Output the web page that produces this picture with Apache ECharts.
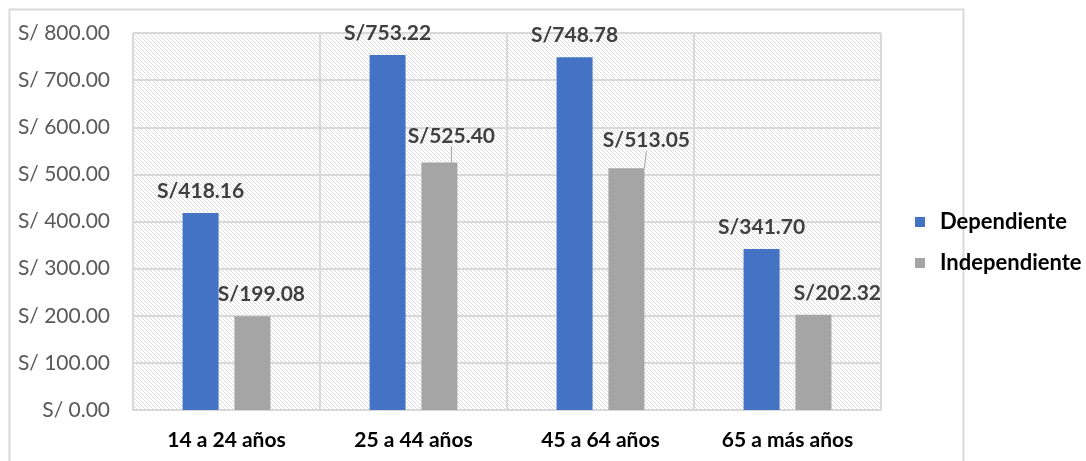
<!DOCTYPE html>
<html>
<head>
<meta charset="utf-8">
<script src="https://cdn.jsdelivr.net/npm/echarts@6/dist/echarts.min.js"></script>
<style>
  html, body { margin: 0; padding: 0; background: #ffffff; }
  #chart { width: 1086px; height: 461px; }
</style>
</head>
<body>
<div id="chart"></div>
<script>
// Ingreso promedio por grupo de edad y tipo de trabajador
const categories = ['14 a 24 años', '25 a 44 años', '45 a 64 años', '65 a más años'];
const dependiente = [418.16, 753.22, 748.78, 341.70];
const independiente = [199.08, 525.40, 513.05, 202.32];
const seriesNames = ['Dependiente', 'Independiente'];
const yTicks = [0, 100, 200, 300, 400, 500, 600, 700, 800];

const FONT = 'Lato, "Open Sans", sans-serif';

// Diagonal hatch tile for the plot background
function hatchTile() {
  const c = document.createElement('canvas');
  c.width = 4; c.height = 4;
  const g = c.getContext('2d');
  g.fillStyle = '#ffffff';
  g.fillRect(0, 0, 4, 4);
  g.strokeStyle = '#dcdcdc';
  g.lineWidth = 1;
  g.beginPath();
  g.moveTo(-1, -1); g.lineTo(5, 5);
  g.moveTo(-1, 3); g.lineTo(1, 5);
  g.moveTo(3, -1); g.lineTo(5, 1);
  g.stroke();
  return c;
}

// Label nudges (dx, dy) for labels that sit beside their bars
const labelShift = {
  '1-0': [9, 0],
  '1-1': [12, -5],
  '1-2': [20, -6],
  '1-3': [24, 0]
};
const leaderItems = ['1-1', '1-2'];

function toItems(values, sIdx) {
  return values.map((v, i) => {
    const key = sIdx + '-' + i;
    const item = { value: v };
    if (leaderItems.indexOf(key) >= 0) {
      item.labelLine = { show: true, lineStyle: { color: '#a6a6a6', width: 1 } };
    }
    return item;
  });
}

const labelStyle = {
  show: true,
  position: 'top',
  distance: 11,
  fontFamily: FONT,
  fontWeight: 'bold',
  fontSize: 21,
  color: '#404040',
  formatter: p => 'S/' + p.value.toFixed(2)
};

const chart = echarts.init(document.getElementById('chart'), null, { renderer: 'canvas' });

chart.setOption({
  backgroundColor: '#ffffff',
  animation: false,
  graphic: [{
    type: 'rect',
    shape: { x: 9.5, y: 9.5, width: 954, height: 470 },
    style: { fill: 'none', stroke: '#d9d9d9', lineWidth: 2 },
    silent: true,
    z: -10
  }],
  grid: {
    left: 133, top: 33, width: 748, height: 377,
    show: true,
    borderWidth: 0,
    backgroundColor: { image: hatchTile(), repeat: 'repeat' }
  },
  legend: {
    orient: 'vertical',
    left: 910,
    top: 206,
    icon: 'rect',
    itemWidth: 10,
    itemHeight: 10,
    itemGap: 19,
    data: seriesNames,
    textStyle: { fontFamily: FONT, fontWeight: 'bold', fontSize: 22, color: '#000000', padding: [0, 0, 0, 10] }
  },
  xAxis: {
    type: 'category',
    data: categories,
    axisLine: { show: true, lineStyle: { color: '#d9d9d9', width: 2 } },
    axisTick: { show: false },
    splitLine: { show: true, lineStyle: { color: '#d9d9d9', width: 2 } },
    axisLabel: { margin: 20, fontFamily: FONT, fontWeight: 'bold', fontSize: 21, color: '#000000' }
  },
  yAxis: {
    type: 'value',
    min: yTicks[0],
    max: yTicks[yTicks.length - 1],
    interval: 100,
    axisLine: { show: false },
    axisTick: { show: false },
    splitLine: { show: true, lineStyle: { color: '#d9d9d9', width: 2 } },
    axisLabel: {
      margin: 23,
      fontFamily: FONT,
      fontSize: 21,
      color: '#595959',
      formatter: v => 'S/ ' + v.toFixed(2)
    }
  },
  series: [
    {
      name: seriesNames[0],
      type: 'bar',
      data: toItems(dependiente, 0),
      barWidth: 36,
      barGap: '44%',
      itemStyle: { color: '#4472c4' },
      label: labelStyle
    },
    {
      name: seriesNames[1],
      type: 'bar',
      data: toItems(independiente, 1),
      barWidth: 36,
      barGap: '44%',
      itemStyle: { color: '#a5a5a5' },
      label: labelStyle
    }
  ],
  labelLayout: function (params) {
    const s = labelShift[params.seriesIndex + '-' + params.dataIndex];
    return s ? { dx: s[0], dy: s[1] } : {};
  }
});
</script>
</body>
</html>
